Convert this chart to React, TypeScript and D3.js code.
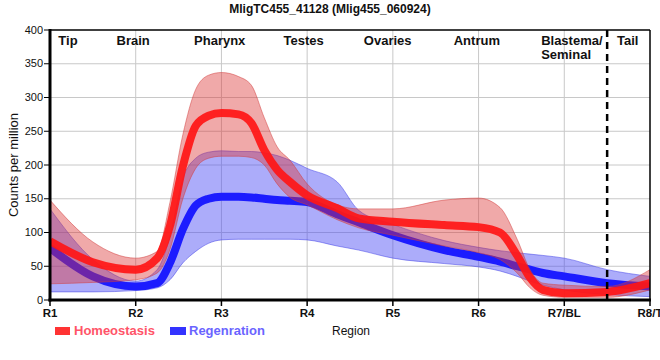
import React, { useEffect, useRef } from 'react';
import * as d3 from 'd3';

// positions along the body axis, 0 = R1 ... 7 = R8/T
const positions = [0, 0.5, 1, 1.25, 1.4, 1.55, 1.7, 1.85, 2, 2.2, 2.35, 2.5, 2.65, 2.8, 3, 3.35, 3.6, 4, 4.6, 5, 5.25, 5.45, 5.6, 5.75, 6, 6.5, 7];

const homeoMean = [87, 56, 45, 62, 110, 198, 258, 273, 277, 275, 262, 222, 193, 175, 155, 136, 121, 116, 111, 108, 100, 66, 33, 15, 10, 12, 25];
const homeoUpper = [148, 86, 62, 72, 145, 245, 312, 333, 337, 331, 318, 270, 227, 207, 172, 141, 135, 135, 148, 151, 137, 90, 45, 25, 22, 20, 45];
const homeoLower = [24, 26, 30, 40, 75, 150, 195, 210, 213, 213, 211, 200, 172, 152, 141, 119, 107, 96, 80, 70, 60, 40, 18, 7, 4, 4, 15];

const regenMean = [77, 35, 20, 25, 55, 105, 140, 150, 153, 153, 152, 150, 148, 147, 145, 127, 115, 96, 74, 64, 57, 50, 45, 40, 35, 25, 20];
const regenUpper = [135, 60, 28, 45, 95, 180, 210, 219, 221, 220, 220, 218, 214, 207, 195, 175, 133, 112, 88, 78, 73, 70, 68, 66, 62, 45, 35];
const regenLower = [12, 12, 14, 18, 30, 55, 72, 84, 89, 90, 90, 90, 90, 90, 89, 80, 74, 62, 54, 49, 43, 35, 28, 22, 15, 8, 5];

const tickLabels = ['R1', 'R2', 'R3', 'R4', 'R5', 'R6', 'R7/BL', 'R8/T'];
const yTicks = [0, 50, 100, 150, 200, 250, 300, 350, 400];
const regionNames = ['Tip', 'Brain', 'Pharynx', 'Testes', 'Ovaries', 'Antrum', 'Blastema/', 'Tail'];
const regionPos = [0.21, 0.97, 1.98, 2.96, 3.94, 4.98, 5.73, 6.74];
const dividerPos = 6.5;

const App: React.FC = () => {
  const svgRef = useRef<SVGSVGElement>(null);

  useEffect(() => {
    if (!svgRef.current) return;
    const svg = d3.select(svgRef.current);
    svg.selectAll('*').remove();

    const left = 50, right = 650, top = 30, bottom = 300;
    const x = d3.scaleLinear().domain([0, 7]).range([left, right]);
    const y = d3.scaleLinear().domain([0, 400]).range([bottom, top]);
    const font = 'Liberation Sans, Arial, sans-serif';

    svg.append('defs').append('clipPath').attr('id', 'plot-clip')
      .append('rect').attr('x', left).attr('y', top).attr('width', right - left).attr('height', bottom - top);

    // grid
    svg.append('g').selectAll('line').data(yTicks.slice(1, -1)).enter().append('line')
      .attr('x1', left).attr('x2', right).attr('y1', d => y(d)).attr('y2', d => y(d))
      .style('stroke', '#c8c8c8').style('stroke-width', 1);
    svg.append('g').selectAll('line').data(d3.range(1, 7)).enter().append('line')
      .attr('x1', d => x(d)).attr('x2', d => x(d)).attr('y1', top).attr('y2', bottom)
      .style('stroke', '#c8c8c8').style('stroke-width', 1);

    const plot = svg.append('g').attr('clip-path', 'url(#plot-clip)');

    const area = (lo: number[], hi: number[]) => d3.area<number>()
      .x((_, i) => x(positions[i]))
      .y0((_, i) => y(lo[i]))
      .y1((_, i) => y(hi[i]))
      .curve(d3.curveMonotoneX)(positions);
    const line = (vals: number[]) => d3.line<number>()
      .x((_, i) => x(positions[i]))
      .y((_, i) => y(vals[i]))
      .curve(d3.curveMonotoneX)(positions);

    // Regeneration band + line
    plot.append('path').attr('d', area(regenLower, regenUpper))
      .style('fill', 'rgba(70,70,245,0.45)').style('stroke', 'rgba(60,60,230,0.5)').style('stroke-width', 1);
    plot.append('path').attr('d', line(regenMean))
      .style('fill', 'none').style('stroke', '#1c1cff').style('stroke-width', 8).style('stroke-linejoin', 'round');

    // Homeostasis band + line
    plot.append('path').attr('d', area(homeoLower, homeoUpper))
      .style('fill', 'rgba(220,50,50,0.42)').style('stroke', 'rgba(210,60,60,0.5)').style('stroke-width', 1);
    plot.append('path').attr('d', line(homeoMean))
      .style('fill', 'none').style('stroke', 'rgba(255,22,22,0.92)').style('stroke-width', 8).style('stroke-linejoin', 'round');

    // dashed divider
    svg.append('line')
      .attr('x1', x(dividerPos)).attr('x2', x(dividerPos)).attr('y1', top).attr('y2', bottom + 6)
      .style('stroke', '#000').style('stroke-width', 2.5).style('stroke-dasharray', '7,5');

    // frame
    svg.append('line').attr('x1', left).attr('x2', right).attr('y1', top).attr('y2', top)
      .style('stroke', '#000').style('stroke-width', 1.5);
    svg.append('line').attr('x1', right).attr('x2', right).attr('y1', top).attr('y2', bottom)
      .style('stroke', '#000').style('stroke-width', 1.5);
    svg.append('line').attr('x1', left).attr('x2', left).attr('y1', top - 1).attr('y2', bottom + 1.5)
      .style('stroke', '#000').style('stroke-width', 3);
    svg.append('line').attr('x1', left - 1.5).attr('x2', right + 1).attr('y1', bottom).attr('y2', bottom)
      .style('stroke', '#000').style('stroke-width', 3);

    // y axis
    const yAxis = svg.append('g');
    yAxis.selectAll('line').data(yTicks).enter().append('line')
      .attr('x1', left - 6).attr('x2', left).attr('y1', d => y(d)).attr('y2', d => y(d))
      .style('stroke', '#000').style('stroke-width', 1);
    yAxis.selectAll('text').data(yTicks).enter().append('text')
      .attr('x', left - 7).attr('y', d => y(d)).attr('dy', '0.32em')
      .attr('text-anchor', 'end')
      .style('font-family', font).style('font-size', '11px').style('fill', '#111')
      .text(d => d);

    // x axis
    const xAxis = svg.append('g');
    xAxis.selectAll('line').data(d3.range(0, 8)).enter().append('line')
      .attr('x1', d => x(d)).attr('x2', d => x(d)).attr('y1', bottom).attr('y2', bottom + 6)
      .style('stroke', '#000').style('stroke-width', 1.5);
    xAxis.selectAll('text').data(tickLabels).enter().append('text')
      .attr('x', (_, i) => x(i)).attr('y', bottom + 17)
      .attr('text-anchor', 'middle')
      .style('font-family', font).style('font-size', '11.5px').style('font-weight', 'bold').style('fill', '#111')
      .text(d => d);

    // region labels
    svg.append('g').selectAll('text').data(regionNames).enter().append('text')
      .attr('x', (_, i) => x(regionPos[i]))
      .attr('y', 45)
      .attr('text-anchor', (_, i) => i === 6 ? 'start' : 'middle')
      .style('font-family', font).style('font-size', '13px').style('font-weight', 'bold').style('fill', '#111')
      .text(d => d);
    svg.append('text')
      .attr('x', x(regionPos[6])).attr('y', 59)
      .style('font-family', font).style('font-size', '13px').style('font-weight', 'bold').style('fill', '#111')
      .text('Seminal');

    // title
    svg.append('text')
      .attr('x', 330).attr('y', 13).attr('text-anchor', 'middle')
      .style('font-family', font).style('font-size', '12px').style('font-weight', 'bold').style('fill', '#111')
      .text('MligTC455_41128 (Mlig455_060924)');

    // y label
    svg.append('text')
      .attr('transform', `translate(18, ${(top + bottom) / 2}) rotate(-90)`)
      .attr('text-anchor', 'middle')
      .style('font-family', font).style('font-size', '13px').style('fill', '#111')
      .text('Counts per million');

    // legend
    const legend = svg.append('g');
    legend.append('rect').attr('x', 55).attr('y', 327).attr('width', 15).attr('height', 8).style('fill', '#ff3333');
    legend.append('text').attr('x', 74).attr('y', 335)
      .style('font-family', font).style('font-size', '13px').style('font-weight', 'bold').style('fill', '#ff5468')
      .text('Homeostasis');
    legend.append('rect').attr('x', 170).attr('y', 327).attr('width', 16).attr('height', 8).style('fill', '#3333ff');
    legend.append('text').attr('x', 189).attr('y', 335)
      .style('font-family', font).style('font-size', '13px').style('font-weight', 'bold').style('fill', '#6a64ff')
      .text('Regenration');
    legend.append('text').attr('x', 332).attr('y', 335)
      .style('font-family', font).style('font-size', '12px').style('fill', '#111')
      .text('Region');
  }, []);

  return (
    <svg ref={svgRef} width={660} height={360}
      style={{ position: 'absolute', left: 0, top: 0, background: '#fff' }} />
  );
};

export default App;
